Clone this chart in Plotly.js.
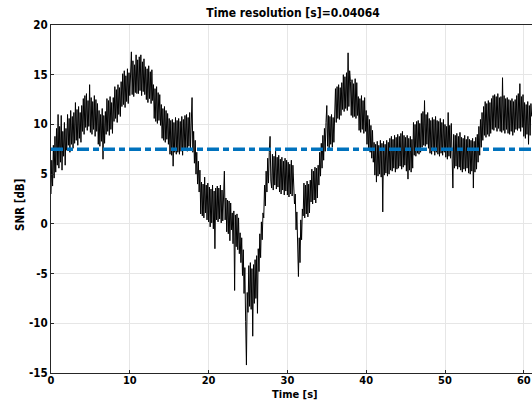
<!DOCTYPE html>
<html>
<head>
<meta charset="utf-8">
<script src="https://cdn.plot.ly/plotly-3.0.1.min.js"></script>
<style>html,body{margin:0;padding:0;background:#fff;}#chart{width:532px;height:401px;}</style>
</head>
<body>
<div id="chart"></div>
<script>
// SNR samples, 0.1 s apart
const sampleStep = 0.1;
const snr = [
3.0,6.4,3.8,7.9,4.6,8.8,5.2,9.6,5.9,11.0,
5.6,9.8,6.2,10.9,5.4,9.3,6.8,10.2,5.9,9.6,
7.4,11.0,7.9,10.6,7.2,11.4,8.0,10.8,7.6,11.2,
8.1,12.2,8.4,11.5,7.9,11.8,8.6,11.2,8.2,11.9,
9.3,12.6,9.0,12.9,9.7,13.1,9.4,12.4,9.8,14.0,
9.2,12.7,9.0,12.3,9.5,12.9,8.8,12.5,9.3,12.1,
8.0,11.4,7.8,11.0,8.3,11.6,6.5,10.9,8.1,11.3,
9.0,12.6,9.3,12.4,8.9,12.8,9.5,12.2,9.1,12.7,
10.3,13.8,10.6,13.5,10.2,14.0,11.0,13.7,10.8,14.3,
11.8,15.1,12.0,15.4,11.7,14.9,12.3,15.6,12.1,15.2,
12.9,16.2,17.3,13.0,16.4,12.8,16.0,13.2,17.0,13.1,
16.5,13.1,16.8,13.4,17.0,12.9,16.3,13.3,16.6,13.0,
15.8,12.5,15.6,12.2,15.9,12.6,15.3,12.1,15.5,12.4,
14.0,10.6,13.6,10.3,13.8,10.1,13.2,10.4,13.0,9.9,
12.0,8.6,11.6,8.4,11.8,8.2,11.4,8.5,11.1,8.0,
10.6,7.0,10.4,6.9,10.5,5.8,10.2,7.2,10.7,7.0,
10.4,7.2,10.6,7.0,10.3,7.3,10.8,6.9,10.5,7.4,
10.9,7.5,11.0,7.3,10.7,7.8,11.2,7.6,10.8,12.7,
7.2,9.3,6.1,8.4,5.0,7.2,4.0,6.3,3.2,5.4,
1.0,4.2,0.8,4.0,0.6,4.7,1.1,3.9,0.4,4.1,
0.2,3.7,-0.3,3.5,0.1,3.9,-0.5,3.3,-2.5,3.6,
0.4,3.8,0.2,3.6,0.5,3.9,0.1,3.4,0.3,3.7,
5.3,0.4,2.6,-0.8,2.4,-1.0,2.3,-1.7,2.1,-0.6,
1.1,-2.0,1.3,-6.7,0.9,-2.3,1.0,-2.6,0.6,-3.0,
-0.9,-3.9,-1.4,-5.2,-2.6,-7.0,-4.4,-9.8,-14.2,-6.9,
-8.9,-4.2,-8.3,-3.9,-8.6,-4.5,-11.3,-4.1,-8.0,-3.6,
-7.5,-3.2,-9.0,-2.5,-4.8,-1.0,-3.4,0.2,-1.6,1.1,
0.6,3.9,1.8,5.3,3.2,6.6,4.1,7.2,8.8,4.3,
3.6,7.0,3.4,6.8,3.9,7.3,3.5,6.7,3.7,6.9,
3.2,6.5,3.0,6.7,3.4,6.3,2.9,6.6,3.3,6.4,
2.9,6.2,2.7,6.0,3.0,6.4,2.8,5.9,3.1,2.0,
3.0,-0.6,1.2,-3.1,-5.3,-1.4,-3.9,0.4,-1.6,1.5,
0.8,4.1,0.6,3.9,1.0,4.3,0.7,4.0,1.1,4.4,
2.2,5.5,2.0,5.3,2.4,5.7,2.1,5.6,2.6,5.9,
3.9,7.2,4.8,8.1,5.6,8.9,6.4,9.6,7.3,10.2,
11.9,7.8,10.9,7.6,10.8,8.0,11.0,7.7,10.7,8.2,
10.4,13.6,10.2,13.8,10.6,14.0,10.5,13.7,10.9,14.2,
11.5,15.0,11.3,14.8,11.6,15.2,11.4,17.2,11.8,15.4,
14.3,10.9,14.5,10.7,14.1,10.8,14.6,10.6,14.2,10.9,
12.8,9.4,12.6,9.2,12.9,9.5,12.4,9.1,12.7,9.3,
11.4,8.0,10.9,7.4,10.5,7.2,9.9,6.6,9.4,6.2,
8.2,4.9,8.0,4.2,8.3,4.8,7.9,5.0,8.4,4.7,
8.1,1.2,8.3,4.9,8.0,5.1,8.4,4.8,8.2,5.0,
8.6,5.4,8.8,5.3,8.5,5.6,8.9,5.2,8.7,5.5,
9.0,5.6,8.8,5.8,9.1,5.5,9.3,5.7,8.9,5.9,
8.7,5.3,8.9,4.5,8.6,5.4,8.8,5.2,8.5,5.6,
10.2,6.9,10.0,6.8,10.3,7.1,10.4,7.0,10.1,7.2,
11.1,7.7,11.3,7.9,12.4,7.8,11.0,8.0,11.2,7.6,
10.6,7.1,10.4,7.0,10.7,7.3,10.5,6.9,10.8,7.2,
10.4,7.0,10.3,6.8,10.6,7.1,10.2,6.9,10.5,7.2,
10.0,6.7,9.8,6.5,11.2,6.8,9.9,6.6,10.1,6.4,
3.6,9.0,5.6,8.9,5.8,9.1,5.5,8.8,5.7,9.2,
5.4,8.7,5.2,8.6,5.5,8.9,5.3,8.5,5.6,8.8,
5.1,8.5,5.0,8.4,5.3,8.6,3.6,8.3,5.2,8.7,
5.5,9.0,6.2,9.8,6.9,10.5,7.7,11.2,8.4,11.8,
8.9,12.3,8.7,12.1,9.0,12.4,8.8,12.2,9.1,12.6,
9.5,12.9,9.4,13.0,9.7,12.8,9.3,13.1,9.6,12.7,
9.3,12.8,9.2,14.7,9.4,12.9,9.1,12.6,9.5,12.7,
9.1,12.5,9.0,12.4,9.3,12.6,8.9,12.3,9.2,12.5,
9.5,12.9,9.4,13.1,9.6,14.1,9.3,12.8,9.7,13.0,
8.8,12.2,8.6,12.0,9.0,12.3,8.0,11.9,8.9,12.1,
10.8
];
const threshold = 7.5;
const xTicks = [0, 10, 20, 30, 40, 50, 60];
const yTicks = [-15, -10, -5, 0, 5, 10, 15, 20];
const titleText = 'Time resolution [s]=0.04064';
const xLabel = 'Time [s]';
const yLabel = 'SNR [dB]';

const time = snr.map((_, i) => +(i * sampleStep).toFixed(2));

const FONT = '"Liberation Sans Narrow", "DejaVu Sans Condensed", "Liberation Sans", Arial, sans-serif';

const traces = [
  {x: time, y: snr, type: 'scatter', mode: 'lines',
   line: {color: '#000000', width: 1}, hoverinfo: 'skip'},
  {x: [time[0], time[time.length - 1]], y: [threshold, threshold], type: 'scatter', mode: 'lines',
   line: {color: '#0072BD', width: 3.5, dash: '12px,4px,6px,4px'}, hoverinfo: 'skip'}
];

const layout = {
  width: 532, height: 401,
  margin: {l: 51, r: 0, t: 25, b: 28, pad: 0},
  paper_bgcolor: '#ffffff', plot_bgcolor: '#ffffff',
  showlegend: false,
  font: {family: FONT, size: 12, color: '#000'},
  title: {text: '<b>' + titleText + '</b>', x: 0.551, xanchor: 'center', y: 0.967, yanchor: 'middle',
          font: {family: FONT, size: 12, color: '#000'}},
  xaxis: {range: [0, 61.04], tickvals: xTicks, ticktext: xTicks.map(v => '<b>' + v + '</b>'),
          showgrid: true, gridcolor: '#e6e6e6', gridwidth: 1, zeroline: false,
          showline: true, linecolor: '#262626', linewidth: 1, mirror: true,
          ticks: 'inside', ticklen: 3, tickcolor: '#262626', ticklabelstandoff: -3,
          tickfont: {family: FONT, size: 11, color: '#000'}},
  yaxis: {range: [-15, 20], tickvals: yTicks, ticktext: yTicks.map(v => '<b>' + v + '</b>'),
          showgrid: true, gridcolor: '#e6e6e6', gridwidth: 1, zeroline: false,
          showline: true, linecolor: '#262626', linewidth: 1, mirror: false,
          ticks: 'inside', ticklen: 3, tickcolor: '#262626',
          tickfont: {family: FONT, size: 11.5, color: '#000'}},
  annotations: [
    {text: '<b>' + xLabel + '</b>', xref: 'paper', yref: 'paper', x: (295 - 51) / 481, y: -(394 - 373) / 348,
     xanchor: 'center', yanchor: 'middle', showarrow: false, font: {family: FONT, size: 11, color: '#000'}},
    {text: '<b>' + yLabel + '</b>', xref: 'paper', yref: 'paper', x: -(51 - 20) / 481, y: (373 - 205) / 348,
     xanchor: 'center', yanchor: 'middle', textangle: -90, showarrow: false, font: {family: FONT, size: 11.5, color: '#000'}}
  ]
};

Plotly.newPlot('chart', traces, layout, {displayModeBar: false, staticPlot: true});
</script>
</body>
</html>
